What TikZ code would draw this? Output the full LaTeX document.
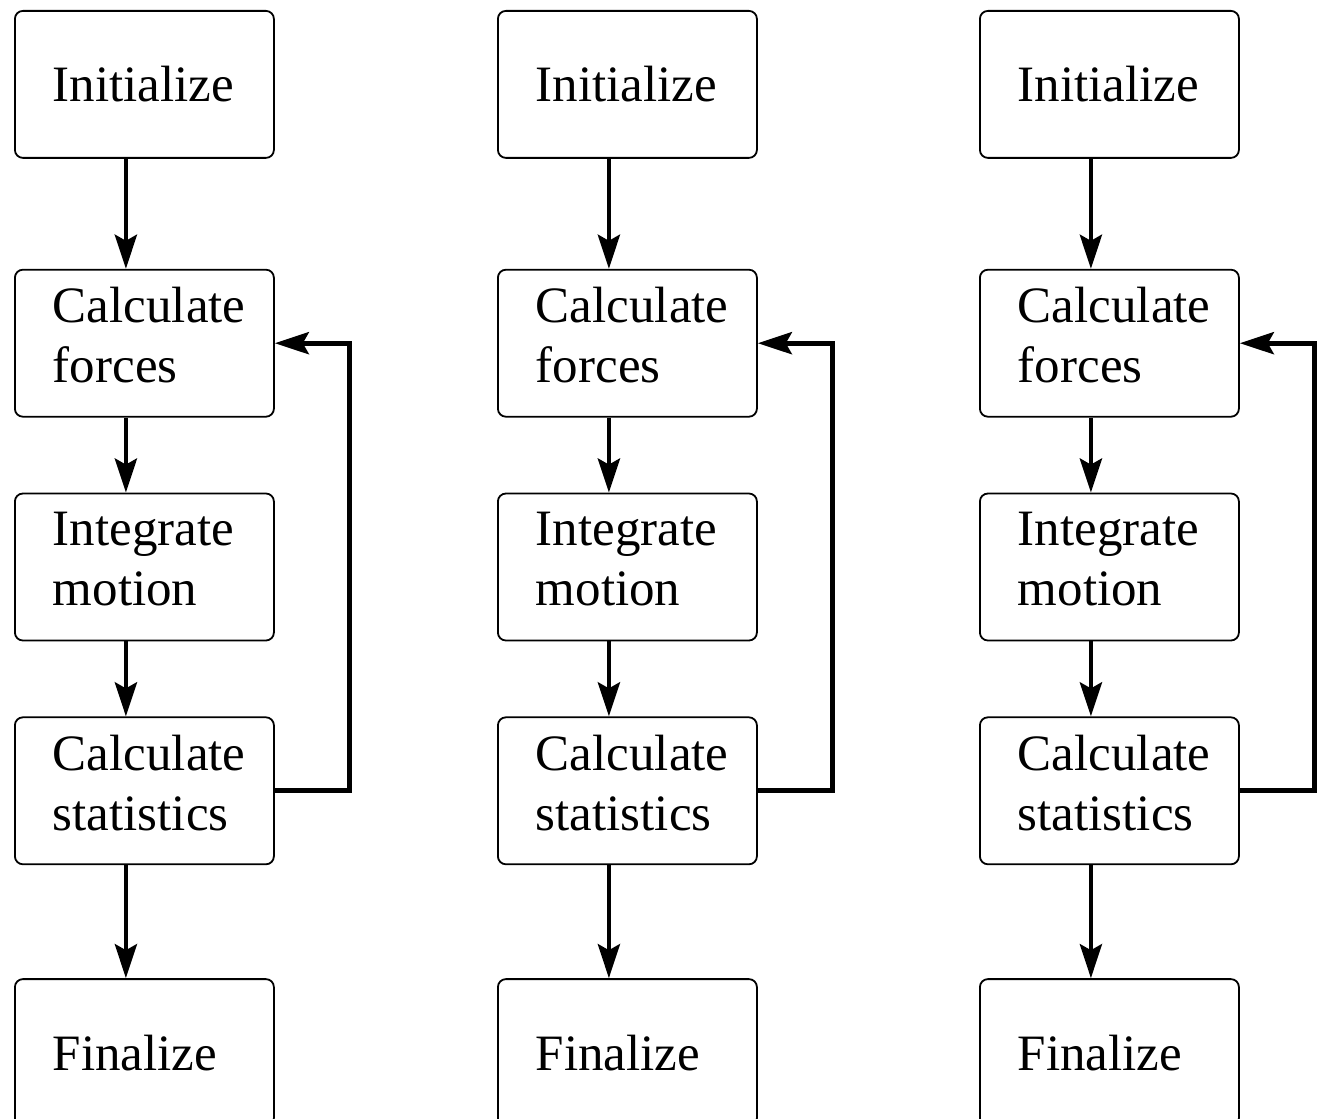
\documentclass[tikz,border=0pt]{standalone}
\usepackage{fontspec}
\setmainfont{Liberation Serif}
\usetikzlibrary{arrows.meta,positioning}
\tikzset{
  >={Stealth[length=17pt,width=11pt,inset=3pt]},
  stepbox/.style={rounded corners=4pt,draw=black,line width=0.9pt,fill=white,
                  align=left,text width=91.5pt,inner xsep=19pt,inner ysep=0pt,
                  minimum width=129.5pt,minimum height=73.5pt,
                  font=\fontsize{25.5}{30}\selectfont},
  twobox/.style={stepbox,text depth=38pt},
  flowarrow/.style={->,line width=2.4pt,draw=black},
}

\begin{document}
\begin{tikzpicture}[node distance=37.5pt]
  \useasboundingbox (0,0) rectangle (660.5pt,-559pt);
  \foreach \c/\xpos in {a/7pt,b/248.5pt,c/489.5pt}{
    \node[stepbox,anchor=north west] (init\c) at (\xpos,-5pt) {Initialize};
    \node[twobox,below=55pt of init\c] (forces\c) {Calculate\\forces};
    \node[twobox,below=of forces\c] (integ\c) {Integrate\\motion};
    \node[twobox,below=of integ\c] (stats\c) {Calculate\\statistics};
    \node[stepbox,below=56.5pt of stats\c] (final\c) {Finalize};
    \foreach \s/\t in {init/forces,forces/integ,integ/stats,stats/final}{
      \draw[flowarrow] ([xshift=-9.25pt]\s\c.south) -- ([xshift=-9.25pt]\t\c.north);
    }
    \draw[flowarrow] (stats\c.east) -- ++(37.5pt,0) |- (forces\c.east);
  }
\end{tikzpicture}
\end{document}
